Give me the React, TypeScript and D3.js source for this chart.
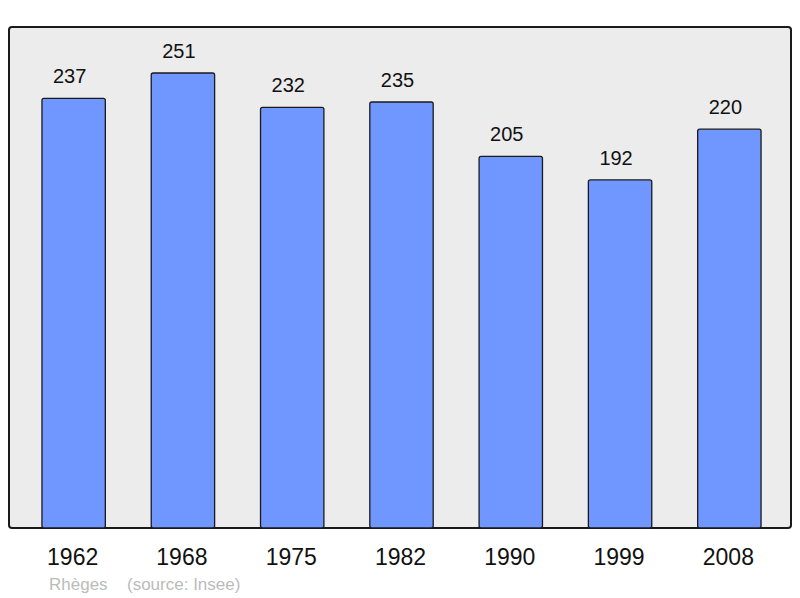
import React from 'react';
import * as d3 from 'd3';

const years = ['1962', '1968', '1975', '1982', '1990', '1999', '2008'];
const population = [237, 251, 232, 235, 205, 192, 220];
const placeName = 'Rhèges';
const sourceNote = '(source: Insee)';

export default function App() {
    const width = 800, height = 598;
    const panel = { left: 9, top: 27, right: 791, bottom: 528 };

    const x = d3.scaleBand<string>()
        .domain(years)
        .range([19, 784])
        .paddingInner(0.42)
        .paddingOuter(0.21);

    const y = d3.scaleLinear()
        .domain([0, d3.max(population) as number])
        .range([panel.bottom, 73]);

    const font = '"Liberation Sans", Arial, sans-serif';

    return (
        <svg width={width} height={height} style={{ position: 'absolute', left: 0, top: 0 }}>
            <rect x={panel.left} y={panel.top} width={panel.right - panel.left} height={panel.bottom - panel.top}
                rx={3} fill="#ececec" stroke="#1a1a1a" strokeWidth={2} />
            {years.map((yr, i) => {
                const bx = x(yr) as number;
                const v = population[i];
                return (
                    <g key={yr}>
                        <rect x={bx} y={y(v)} width={x.bandwidth()} height={panel.bottom - y(v)}
                            rx={2} fill="#7096ff" stroke="#1a1a1a" strokeWidth={1.3} />
                        <text x={bx + x.bandwidth() / 2 - 4} y={y(v) - 15} textAnchor="middle"
                            fontFamily={font} fontSize={20} fill="#111">{v}</text>
                        <text x={bx + x.bandwidth() / 2 - 1} y={564.5} textAnchor="middle"
                            fontFamily={font} fontSize={23} fill="#111">{yr}</text>
                    </g>
                );
            })}
            <text x={49} y={590} fontFamily={font} fontSize={17} fill="#bbbbbb">{placeName}</text>
            <text x={127} y={590} fontFamily={font} fontSize={17} fill="#bbbbbb">{sourceNote}</text>
        </svg>
    );
}
